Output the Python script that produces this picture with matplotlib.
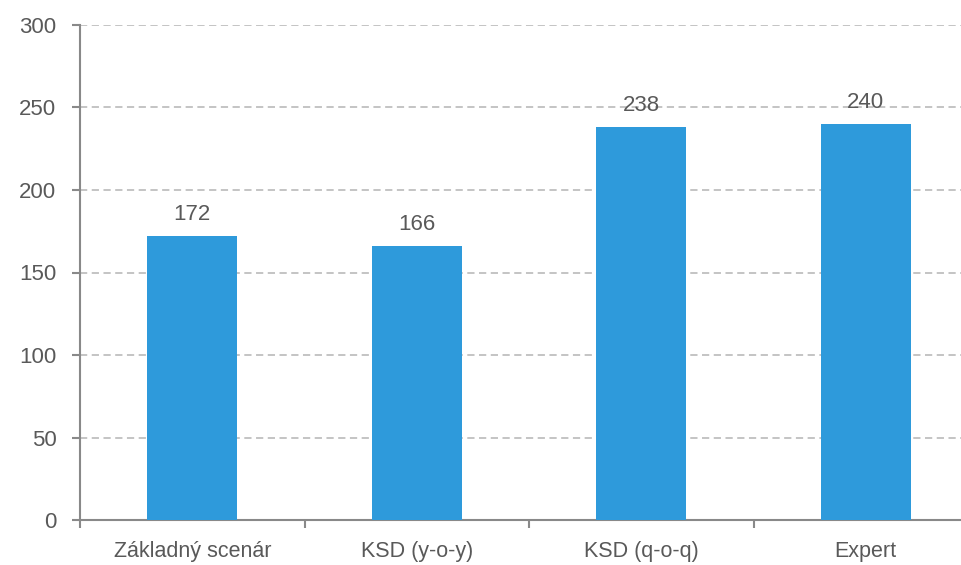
import matplotlib
matplotlib.use("Agg")
import matplotlib.pyplot as plt
import numpy as np

categories = ["Základný scenár", "KSD (y-o-y)", "KSD (q-o-q)", "Expert"]
values = [172, 166, 238, 240]
yticks = [0, 50, 100, 150, 200, 250, 300]

plt.rcParams['font.family'] = ['Liberation Sans', 'DejaVu Sans']

fig = plt.figure(figsize=(9.61, 5.65), dpi=100)
ax = fig.add_axes([80/961, 1 - 520/565, (961 - 80)/961, (520 - 25)/565])

x = np.arange(len(categories))
ax.bar(x, values, width=0.40, color="#2E9ADB", zorder=3)

for xi, v in zip(x, values):
    ax.annotate(f"{v}", (xi, v), xytext=(0, 8), textcoords="offset points",
                ha="center", va="bottom", fontsize=16, color="#595959")

ax.set_xticks(x)
ax.set_xticklabels(categories, fontsize=15.5, color="#595959")
ax.tick_params(axis="x", which="major", length=0, pad=15)
ax.set_xticks(np.arange(-0.5, len(categories) + 0.5, 1.0), minor=True)
ax.tick_params(axis="x", which="minor", length=6, width=1.5, color="#898989", direction="out")

ax.set_yticks(yticks)
ax.tick_params(axis="y", length=6, width=1.5, color="#898989", labelsize=16, labelcolor="#595959", pad=11)

ax.set_ylim(0, 300)
ax.set_xlim(-0.5, -0.5 + (961 - 80) / 224.5)

ax.yaxis.grid(True, linestyle=(0, (4, 2.5)), color="#BFBFBF", linewidth=1.3, zorder=0)
ax.set_axisbelow(True)

for s in ["top", "right"]:
    ax.spines[s].set_visible(False)
for s in ["left", "bottom"]:
    ax.spines[s].set_color("#898989")
    ax.spines[s].set_linewidth(1.5)

fig.savefig("out.png", dpi=100)
